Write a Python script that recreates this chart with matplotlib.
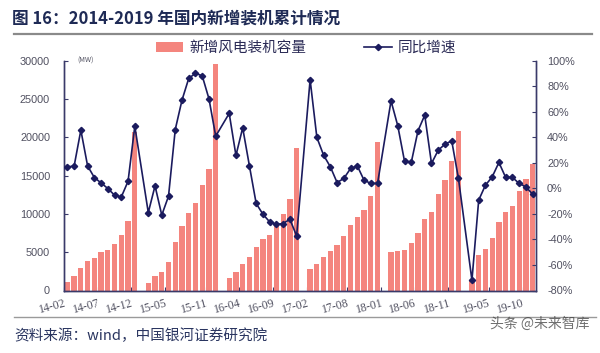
import matplotlib
matplotlib.use("Agg")
import matplotlib.pyplot as plt
import numpy as np
from matplotlib.lines import Line2D
from matplotlib.patches import Patch

plt.rcParams['font.family'] = ['Noto Sans CJK SC', 'DejaVu Sans']

# ---- data ----
years = [2014, 2015, 2016, 2017, 2018, 2019]
cap_2014 = [1120, 1870, 2950, 3890, 4300, 4980, 5260, 6040, 7280, 9090, 20700]
cap_2015 = [1000, 1870, 2400, 3740, 6380, 8350, 10050, 11440, 13750, 15800, 29500]
cap_2016 = [1570, 2350, 3430, 4390, 5610, 6660, 7220, 8520, 9960, 11880, 18540]
cap_2017 = [2780, 3430, 4390, 5130, 5910, 7130, 8520, 9610, 10480, 12350, 19320]
cap_2018 = [4960, 5130, 5260, 6210, 7440, 9270, 10180, 12530, 14390, 16920, 20840]
cap_2019 = [1300, 4650, 5390, 6790, 8960, 10180, 11000, 12920, 14510, 16450]

yoy_2014 = [16.8, 17.3, 45.5, 17.5, 8.4, 4.2, -0.2, -5.4, -6.8, 5.5, 48.6]
yoy_2015 = [-19.0, 1.9, -21.0, -6.2, 46.0, 69.0, 86.0, 90.0, 88.0, 70.0, 40.8]
yoy_2016 = [58.6, 25.7, 47.3, 17.5, -11.9, -20.3, -26.3, -28.3, -27.6, -24.2, -37.3]
yoy_2017 = [85.0, 39.8, 25.9, 16.8, 4.5, 7.7, 15.5, 17.5, 6.3, 3.8, 3.8]
yoy_2018 = [68.4, 48.9, 21.2, 20.2, 45.0, 57.2, 19.4, 29.8, 34.5, 37.1, 7.7]
yoy_2019 = [-72.0, -9.3, 2.4, 8.9, 20.2, 8.5, 8.5, 3.8, 1.1, -4.6]

tick_labels = ['14-02', '14-07', '14-12', '15-05', '15-11', '16-04', '16-09',
               '17-02', '17-08', '18-01', '18-06', '18-11', '19-05', '19-10']

left_ticks = [0, 5000, 10000, 15000, 20000, 25000, 30000]
right_ticks = [-80, -60, -40, -20, 0, 20, 40, 60, 80, 100]

cap_all = [cap_2014, cap_2015, cap_2016, cap_2017, cap_2018, cap_2019]
yoy_all = [yoy_2014, yoy_2015, yoy_2016, yoy_2017, yoy_2018, yoy_2019]

# monthly slots from 14-02 to 19-11 (January slots stay empty)
slots = []
cap = []
yoy = []
for yi, y in enumerate(years):
    m_end = 11 if y == 2019 else 12
    for m in range(1, m_end + 1):
        if y == 2014 and m == 1:
            continue
        slots.append(f"{y % 100:02d}-{m:02d}")
        if m == 1:
            cap.append(np.nan)
            yoy.append(np.nan)
        else:
            cap.append(cap_all[yi][m - 2])
            yoy.append(yoy_all[yi][m - 2])

x = np.arange(len(slots))
cap = np.array(cap, dtype=float)
yoy = np.array(yoy, dtype=float)

# ---- figure ----
W, H = 600, 353
fig = plt.figure(figsize=(W / 100, H / 100), dpi=100)
ax = fig.add_axes([64 / W, 1 - 290.5 / H, (536 - 64) / W, (290.5 - 60.5) / H])
ax2 = ax.twinx()

bar_color = '#F4857E'
line_color = '#1B1B5E'
spine_color = '#3A3A6A'
text_color = '#505060'

valid = ~np.isnan(cap)
ax.bar(x[valid], cap[valid], width=0.78, color=bar_color, zorder=2)
vy = ~np.isnan(yoy)
ax2.plot(x[vy], yoy[vy], color=line_color, lw=1.2, marker='D', ms=3.2, zorder=3)

ax.set_xlim(-0.5, len(slots) - 0.5)
ax.set_ylim(0, 30000)
ax2.set_ylim(-80, 100)

ax.set_yticks(left_ticks)
ax.set_yticklabels([str(v) for v in left_ticks])
ax2.set_yticks(right_ticks)
ax2.set_yticklabels([f"{v}%" for v in right_ticks])

pos = [slots.index(t) - 0.5 for t in tick_labels]
ax.set_xticks(pos)
ax.set_xticklabels(tick_labels, rotation=15, ha='right', rotation_mode='anchor',
                   fontfamily='Liberation Serif', fontsize=8.5, color=text_color)

for a in (ax, ax2):
    for s in a.spines.values():
        s.set_color(spine_color)
        s.set_linewidth(1.0)
    a.spines['top'].set_visible(False)
ax.tick_params(axis='y', direction='in', length=3, colors=spine_color, labelcolor=text_color,
               labelsize=7.8, pad=10)
ax.tick_params(axis='x', direction='in', length=3, colors=spine_color, labelcolor=text_color, pad=5)
ax2.tick_params(axis='y', direction='in', length=3, colors=spine_color, labelcolor=text_color,
                labelsize=7.8, pad=8)
for lab in ax.get_yticklabels() + ax2.get_yticklabels():
    lab.set_fontfamily('Liberation Sans')

ax.set_zorder(ax2.get_zorder() - 1)
ax.patch.set_visible(False)

fig.text(77 / W, 1 - 61 / H, '(MW)', fontsize=5, color=text_color, va='center', ha='left')

# title and rules
fig.text(12 / W, 1 - 19 / H, '图 16：2014-2019 年国内新增装机累计情况', fontsize=12,
         fontweight='bold', color='#1E2A55', va='center', ha='left')
fig.add_artist(Line2D([14 / W, 592 / W], [1 - 34 / H, 1 - 34 / H], color='#8A8A8A', lw=1.6))
fig.add_artist(Line2D([14 / W, 596 / W], [1 - 317 / H, 1 - 317 / H], color='#9A9A9A', lw=1.0))

handles = [Patch(facecolor=bar_color, edgecolor='none'),
           Line2D([], [], color=line_color, lw=1.2, marker='D', ms=3.2)]
fig.legend(handles, ['新增风电装机容量', '同比增速'], loc='center', ncol=2,
           bbox_to_anchor=(306 / W, 1 - 48 / H), frameon=False, fontsize=10.5,
           handlelength=1.9, handleheight=0.7, columnspacing=4.0, handletextpad=0.4,
           labelcolor='#2A2A55', borderpad=0.2)

fig.text(14 / W, 1 - 336 / H, '资料来源：wind，中国银河证券研究院', fontsize=10.5,
         color='#2A3560', va='center', ha='left')
fig.text(590 / W, 1 - 324 / H, '头条 @未来智库', fontsize=10, color='#404040',
         alpha=0.75, va='center', ha='right')

fig.savefig('out.png', dpi=100)
